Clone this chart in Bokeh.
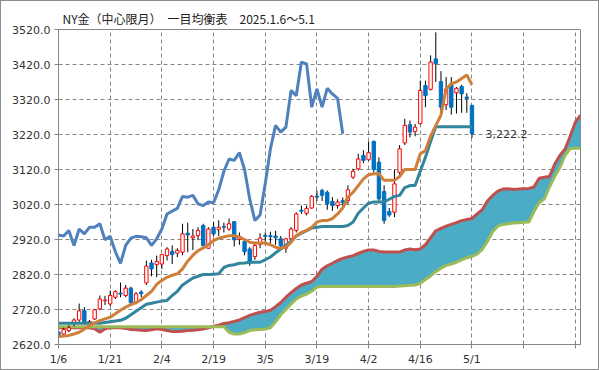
from bokeh.plotting import figure
from bokeh.models import Range1d, FixedTicker, PrintfTickFormatter, Label
from bokeh.embed import file_html
from bokeh.resources import INLINE

title_text = "NY金（中心限月）　一目均衡表　2025.1.6～5.1"

tick_labels = ["1/6", "1/21", "2/4", "2/19", "3/5", "3/19", "4/2", "4/16", "5/1", "", ""]
y_ticks = [2620, 2720, 2820, 2920, 3020, 3120, 3220, 3320, 3420, 3520]

opens = [2656, 2650, 2660, 2681, 2690, 2717, 2681, 2693, 2722, 2745,
         2736, 2755, 2767, 2760, 2781, 2739, 2770, 2796, 2853, 2848,
         2850, 2874, 2886, 2881, 2884, 2938, 2925, 2931, 2960, 2895,
         2955, 2949, 2957, 2950, 2971, 2920, 2915, 2893, 2871, 2906,
         2932, 2931, 2930, 2922, 2895, 2922, 2946, 3004, 2995, 3010,
         3044, 3060, 3055, 3029, 3017, 3031, 3031, 3098, 3122, 3160,
         3148, 3200, 3141, 3057, 3000, 2998, 3112, 3196, 3248, 3229,
         3251, 3360, 3349, 3436, 3371, 3305, 3365, 3339, 3357, 3327,
         3303]
highs = [2665, 2668, 2675, 2695, 2737, 2727, 2690, 2722, 2760, 2759,
         2774, 2775, 2797, 2790, 2785, 2770, 2775, 2860, 2862, 2874,
         2877, 2898, 2903, 2895, 2965, 2968, 2950, 2955, 2965, 2955,
         2970, 2975, 2968, 2980, 2972, 2940, 2920, 2898, 2912, 2938,
         2940, 2942, 2945, 2930, 2925, 2955, 2998, 3017, 3017, 3047,
         3060, 3065, 3060, 3041, 3035, 3040, 3075, 3122, 3165, 3175,
         3200, 3203, 3155, 3075, 3010, 3120, 3190, 3265, 3260, 3250,
         3374, 3374, 3446, 3512, 3401, 3384, 3384, 3356, 3362, 3338,
         3305]
lows = [2623, 2645, 2655, 2672, 2685, 2676, 2676, 2690, 2718, 2733,
        2730, 2750, 2755, 2755, 2733, 2735, 2755, 2790, 2815, 2812,
        2836, 2860, 2850, 2870, 2875, 2884, 2890, 2918, 2895, 2893,
        2930, 2930, 2940, 2945, 2900, 2905, 2875, 2845, 2862, 2895,
        2905, 2910, 2905, 2895, 2882, 2915, 2940, 2993, 2989, 3008,
        3030, 3030, 3005, 3002, 3008, 3015, 3022, 3093, 3117, 3138,
        3145, 3112, 3030, 2965, 2985, 2984, 3100, 3190, 3212, 3215,
        3249, 3298, 3346, 3370, 3270, 3290, 3277, 3280, 3282, 3282,
        3210]
closes = [2648, 2663, 2668, 2690, 2716, 2680, 2686, 2719, 2750, 2747,
          2760, 2771, 2764, 2781, 2739, 2765, 2765, 2844, 2836, 2857,
          2877, 2893, 2877, 2889, 2936, 2933, 2930, 2946, 2903, 2950,
          2936, 2955, 2955, 2965, 2919, 2929, 2885, 2852, 2903, 2924,
          2929, 2928, 2925, 2903, 2922, 2950, 2993, 3001, 3009, 3043,
          3041, 3046, 3022, 3017, 3027, 3025, 3062, 3115, 3150, 3146,
          3168, 3120, 3036, 2974, 2990, 3079, 3179, 3246, 3227, 3241,
          3346, 3331, 3427, 3422, 3298, 3350, 3298, 3352, 3336, 3323,
          3222.2]

# 転換線 (conversion line)
tenkan = [2643, 2644, 2646, 2650, 2655, 2664, 2674, 2682, 2688, 2693,
          2698, 2708, 2718, 2727, 2734, 2740, 2748, 2760, 2772, 2792,
          2803, 2812, 2818, 2822, 2836, 2858, 2875, 2888, 2896, 2905,
          2917, 2924, 2927, 2931, 2931, 2927, 2920, 2912, 2910, 2910,
          2910, 2905, 2898, 2895, 2898, 2912, 2931, 2940, 2946, 2955,
          2970, 2974, 2974, 2980, 2993, 3010, 3041, 3055, 3074, 3093,
          3105, 3108, 3108, 3089, 3089, 3089, 3100, 3120, 3120, 3120,
          3165, 3174, 3215, 3246, 3275, 3350, 3365, 3370, 3380, 3390,
          3362]
# 基準線 (base line)
kijun = [2681, 2681, 2681, 2681, 2681, 2681, 2681, 2681, 2681, 2683,
         2685, 2687, 2689, 2695, 2705, 2715, 2725, 2735, 2738, 2741,
         2744, 2746, 2760, 2772, 2790, 2800, 2810, 2815, 2820, 2820,
         2821, 2822, 2840, 2846, 2848, 2852, 2853, 2855, 2855, 2855,
         2862, 2870, 2882, 2893, 2904, 2915, 2930, 2938, 2945, 2953,
         2955, 2957, 2957, 2957, 2957, 2957, 2960, 2970, 2995, 3010,
         3024, 3027, 3027, 3027, 3035, 3043, 3046, 3068, 3074, 3074,
         3115, 3155, 3200, 3242, 3242, 3242, 3242, 3242, 3242, 3242,
         3242]
# 先行スパン1
senkou_a = [2668, 2668, 2668, 2668, 2668, 2668, 2668, 2665, 2655, 2665,
            2668, 2668, 2668, 2666, 2663, 2662, 2661, 2660, 2662, 2665,
            2663, 2660, 2657, 2657, 2658, 2660, 2661, 2662, 2664, 2668,
            2672, 2675, 2680, 2682, 2686, 2690, 2697, 2703, 2708, 2712,
            2714, 2718, 2728, 2740, 2755, 2768, 2780, 2790, 2795, 2800,
            2815, 2835, 2845, 2852, 2860, 2866, 2870, 2874, 2880, 2886,
            2890, 2890, 2886, 2884, 2884, 2884, 2884, 2890, 2893, 2891,
            2893, 2905, 2925, 2945, 2952, 2958, 2963, 2968, 2974, 2977,
            2980, 2993, 3005, 3030, 3046, 3058, 3064, 3065, 3063, 3064,
            3065, 3066, 3070, 3095, 3098, 3100, 3135, 3160, 3178, 3215,
            3255, 3275]
# 先行スパン2
senkou_b = [2671, 2671, 2671, 2671, 2671, 2671, 2671, 2671, 2671, 2671,
            2671, 2671, 2671, 2671, 2671, 2671, 2671, 2671, 2671, 2671,
            2671, 2671, 2671, 2671, 2671, 2671, 2671, 2671, 2671, 2671,
            2671, 2671, 2671, 2655, 2650, 2650, 2654, 2660, 2662, 2663,
            2664, 2668, 2685, 2705, 2720, 2736, 2750, 2758, 2764, 2772,
            2784, 2786, 2786, 2786, 2786, 2786, 2786, 2786, 2786, 2786,
            2786, 2786, 2786, 2786, 2786, 2786, 2787, 2788, 2789, 2790,
            2795, 2806, 2816, 2828, 2838, 2846, 2850, 2855, 2862, 2868,
            2872, 2878, 2892, 2915, 2942, 2958, 2963, 2965, 2967, 2968,
            2969, 2970, 3000, 3025, 3036, 3070, 3100, 3125, 3160, 3180,
            3181, 3181]
# 遅行スパン
chikou = [2933, 2930, 2946, 2903, 2950, 2936, 2955, 2955, 2965, 2919,
          2929, 2885, 2852, 2903, 2924, 2929, 2928, 2925, 2903, 2922,
          2950, 2993, 3001, 3009, 3043, 3041, 3046, 3022, 3017, 3027,
          3025, 3062, 3115, 3150, 3146, 3168, 3120, 3036, 2974, 2990,
          3079, 3179, 3246, 3227, 3241, 3346, 3331, 3427, 3422, 3298,
          3350, 3298, 3352, 3336, 3323, 3222.2]

n = len(closes)
idx = list(range(n))
cloud_idx = list(range(len(senkou_a)))
chikou_idx = list(range(len(chikou)))

up_x = [i for i in idx if closes[i] >= opens[i]]
dn_x = [i for i in idx if closes[i] < opens[i]]

GRID = "#868686"

p = figure(frame_width=522, frame_height=315, width=597, height=368,
           output_backend="svg", toolbar_location=None,
           x_range=Range1d(0, 101), y_range=Range1d(2620, 3520),
           min_border_left=57, min_border_right=18,
           min_border_top=28, min_border_bottom=25,
           background_fill_color="white", border_fill_color="white")
p.styles = {"border": "1px solid #8c8c8c"}

p.title.text = title_text
p.title.align = "left"
p.title.offset = 4
p.title.standoff = 5
p.title.text_font = "Noto Sans CJK JP"
p.title.text_font_size = "12px"
p.title.text_font_style = "normal"
p.title.text_color = "#222222"

p.outline_line_color = GRID
p.outline_line_width = 1

# axes
p.yaxis.ticker = FixedTicker(ticks=y_ticks)
p.yaxis.formatter = PrintfTickFormatter(format="%.1f")
p.xaxis.ticker = FixedTicker(ticks=[i * 10 for i in range(len(tick_labels))])
p.xaxis.major_label_overrides = {i * 10: t for i, t in enumerate(tick_labels)}
for ax in (p.xaxis, p.yaxis):
    ax.axis_line_color = GRID
    ax.major_tick_line_color = GRID
    ax.major_tick_in = 0
    ax.major_tick_out = 4
    ax.minor_tick_line_color = None
    ax.major_label_text_font = "DejaVu Sans"
    ax.major_label_text_font_size = "11px"
    ax.major_label_text_color = "#333333"
p.xaxis.major_label_standoff = 4
p.yaxis.major_label_standoff = 4

p.xgrid.ticker = FixedTicker(ticks=[i * 10 for i in range(len(tick_labels))])
p.ygrid.ticker = FixedTicker(ticks=y_ticks)
for g in (p.xgrid, p.ygrid):
    g.grid_line_color = GRID
    g.grid_line_dash = "4 3"
    g.grid_line_width = 1

# cloud
p.varea(x=cloud_idx, y1=senkou_a, y2=senkou_b, fill_color="#4BACC6")
p.line(cloud_idx, senkou_a, line_color="#C0504D", line_width=3)
p.line(cloud_idx, senkou_b, line_color="#9BBB59", line_width=3)

# candles
p.segment(x0=idx, y0=lows, x1=idx, y1=highs, line_color="black", line_width=1)
p.vbar(x=up_x, width=0.65,
       top=[closes[i] for i in up_x], bottom=[opens[i] for i in up_x],
       fill_color="white", line_color="#FF0000", line_width=1)
p.vbar(x=dn_x, width=0.65,
       top=[opens[i] for i in dn_x], bottom=[closes[i] for i in dn_x],
       fill_color="#0070C0", line_color="#0070C0", line_width=1)

# lines
p.line(idx, kijun, line_color="#31859C", line_width=3)
p.line(idx, tenkan, line_color="#D07F3A", line_width=3)
p.line(chikou_idx, chikou, line_color="#4F81BD", line_width=3)

p.add_layout(Label(x=82.6, y=closes[-1], text=f"{closes[-1]:,.1f}",
                   text_baseline="middle", text_align="left",
                   text_font="DejaVu Sans", text_font_size="11px",
                   text_color="#333333"))

open("out.html", "w").write(file_html(p, INLINE))
